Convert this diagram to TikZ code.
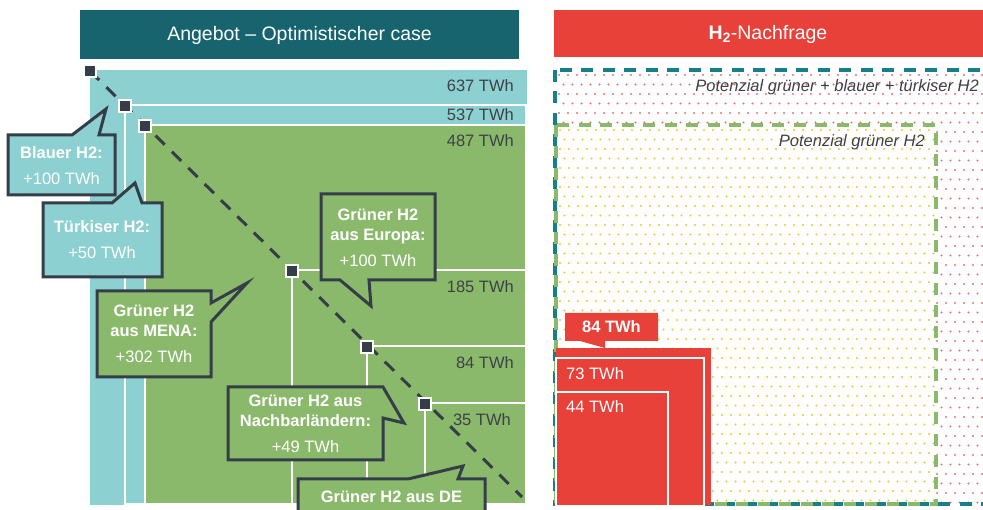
\documentclass[tikz,border=0pt]{standalone}
\usepackage{fontspec}
\setmainfont{Liberation Sans}
\definecolor{hdrteal}{HTML}{17646E}
\definecolor{lteal}{HTML}{8DD0D1}
\definecolor{lgreen}{HTML}{8BB96B}
\definecolor{darkc}{HTML}{353E48}
\definecolor{hred}{HTML}{E8413A}
\definecolor{tealdashc}{HTML}{15808A}
\definecolor{txtgray}{HTML}{3D4248}
\definecolor{reddotc}{HTML}{EE6E6E}
\definecolor{yeldotc}{HTML}{F2C333}
\begin{document}
\begin{tikzpicture}[x=1pt,y=-1pt,
  hdr/.style={font=\fontsize{19.5}{23}\selectfont, text=white, inner sep=0},
  twh/.style={font=\fontsize{16.5}{20}\selectfont, text=txtgray, anchor=east, inner sep=0},
  ctext/.style={font=\fontsize{16.5}{20}\selectfont, text=white, align=center, inner sep=0},
  itext/.style={font=\fontsize{16.5}{20}\selectfont\itshape, text=txtgray, anchor=east, inner sep=0},
  cbox/.style={draw=darkc, line width=3pt, line join=miter},
  wbox/.style={draw=white, line width=2.5pt},
  sqmark/.style={rectangle, draw=white, fill=darkc, line width=2.5pt, minimum size=12pt, inner sep=0},
  diagline/.style={draw=darkc, line width=3pt, dash pattern=on 13pt off 10pt},
  tdash/.style={draw=tealdashc, line width=3.5pt, dash pattern=on 12pt off 9.5pt},
  gdash/.style={draw=lgreen, line width=3.5pt, dash pattern=on 12pt off 9.5pt},
  wtext/.style={font=\fontsize{16.5}{20}\selectfont, text=white, anchor=west, inner sep=0}]
\useasboundingbox (0,0) rectangle (983,510);
\clip (0,0) rectangle (983,510);

% ---------- headers ----------
\fill[hdrteal] (80,10) rectangle (519,59);
\node[hdr] (hleft) at (299.5,35) {Angebot – Optimistischer case};
\fill[hred] (554,10) rectangle (990,57);
\node[hdr] (hright) at (768,34) {\textbf{H\textsubscript{2}}-Nachfrage};

% ---------- supply boxes ----------
\fill[lteal] (90,70) rectangle (527,505);
\draw[wbox, fill=lteal] (125,105) rectangle (526,504);
\draw[wbox, fill=lgreen] (145,125) rectangle (526,504);
\draw[wbox] (292,270) rectangle (526,504);
\draw[wbox] (367,346) rectangle (526,504);
\draw[wbox] (425,403) rectangle (526,504);

% ---------- diagonal ----------
\coordinate (p1) at (90,71);
\coordinate (p2) at (125,106);
\coordinate (p3) at (145,126);
\coordinate (p4) at (292,271);
\coordinate (p5) at (367,347);
\coordinate (p6) at (425,404);
\coordinate (dend) at (522,497);
\draw[diagline] (p1) -- (dend);
\node[sqmark] (s1) at (p1) {};
\node[sqmark] (s2) at (p2) {};
\node[sqmark] (s3) at (p3) {};
\node[sqmark] (s4) at (p4) {};
\node[sqmark] (s5) at (p5) {};
\node[sqmark] (s6) at (p6) {};

% ---------- TWh labels ----------
\node[twh] (l637) at (514,86) {637 TWh};
\node[twh] (l537) at (514,115) {537 TWh};
\node[twh] (l487) at (514,141) {487 TWh};
\node[twh] (l185) at (514,287) {185 TWh};
\node[twh] (l84) at (514,363) {84 TWh};
\node[twh] (l35) at (511,420) {35 TWh};

% ---------- callouts ----------
\draw[cbox, fill=lteal] (8,135) -- (72,135) -- (106,109) -- (99,135) -- (115,135) -- (115,195) -- (8,195) -- cycle;
\node[ctext] (c1) at (61.5,166) {\textbf{Blauer H2:}\\[6pt]+100 TWh};

\draw[cbox, fill=lteal] (43,203) -- (112,203) -- (135,183) -- (142,203) -- (162,203) -- (162,277) -- (43,277) -- cycle;
\node[ctext] (c2) at (102,240) {\textbf{Türkiser H2:}\\[6pt]+50 TWh};

\draw[cbox, fill=lgreen] (97,291) -- (211,291) -- (211,303) -- (247,283) -- (211,322) -- (211,377) -- (97,377) -- cycle;
\node[ctext] (c3) at (154,334) {\textbf{Grüner H2}\\\textbf{aus MENA:}\\[6pt]+302 TWh};

\draw[cbox, fill=lgreen] (321,194) -- (435,194) -- (435,280) -- (369,280) -- (371,306) -- (340,280) -- (321,280) -- cycle;
\node[ctext] (c4) at (378,238) {\textbf{Grüner H2}\\\textbf{aus Europa:}\\[6pt]+100 TWh};

\draw[cbox, fill=lgreen] (228,387) -- (383,387) -- (404,423) -- (383,418) -- (383,460) -- (228,460) -- cycle;
\node[ctext] (c5) at (305.5,424) {\textbf{Grüner H2 aus}\\\textbf{Nachbarländern:}\\[6pt]+49 TWh};

\draw[cbox, fill=lgreen] (298,479) -- (408,479) -- (463,466) -- (458,479) -- (485,479) -- (485,525) -- (298,525) -- cycle;
\node[ctext] (c6) at (391.5,497) {\textbf{Grüner H2 aus DE}};

% ---------- demand side: dotted areas ----------
\begin{scope}
\clip (555,70) rectangle (983,504);
\foreach \j in {0,...,45}{
  \pgfmathsetmacro\yy{75+\j*9.5}
  \pgfmathsetmacro\xo{559+mod(\j,2)*4.5}
  \foreach \i in {0,...,47}{
    \fill[reddotc] (\xo+\i*9,\yy) circle (1.1pt);
  }
}
\end{scope}
\fill[white] (556,125) rectangle (936,504);
\begin{scope}
\clip (556,125) rectangle (936,504);
\foreach \j in {0,...,40}{
  \pgfmathsetmacro\yy{130+\j*9.5}
  \pgfmathsetmacro\xo{560+mod(\j,2)*4.5}
  \foreach \i in {0,...,42}{
    \fill[yeldotc] (\xo+\i*9,\yy) circle (1.1pt);
  }
}
\end{scope}
\draw[tdash] (555,70) rectangle (1000,504);
\draw[gdash] (556,125) rectangle (936,504);
\node[itext] (pot1) at (979,87) {Potenzial grüner + blauer + türkiser H2};
\node[itext] (pot2) at (925,142) {Potenzial grüner H2};

% ---------- demand boxes ----------
\fill[hred] (556,348) rectangle (711,505);
\draw[wbox, line width=2pt, fill=hred] (556,358) rectangle (704,506);
\draw[wbox, line width=2pt, fill=hred] (556,392) rectangle (668,506);
\node[wtext] (d73) at (566,374) {73 TWh};
\node[wtext] (d44) at (566,407) {44 TWh};
\fill[hred] (565,313) -- (658,313) -- (658,341) -- (605,341) -- (605,348) -- (580,341) -- (565,341) -- cycle;
\node[ctext] (d84) at (611.5,327) {\textbf{84 TWh}};
\end{tikzpicture}
\end{document}
